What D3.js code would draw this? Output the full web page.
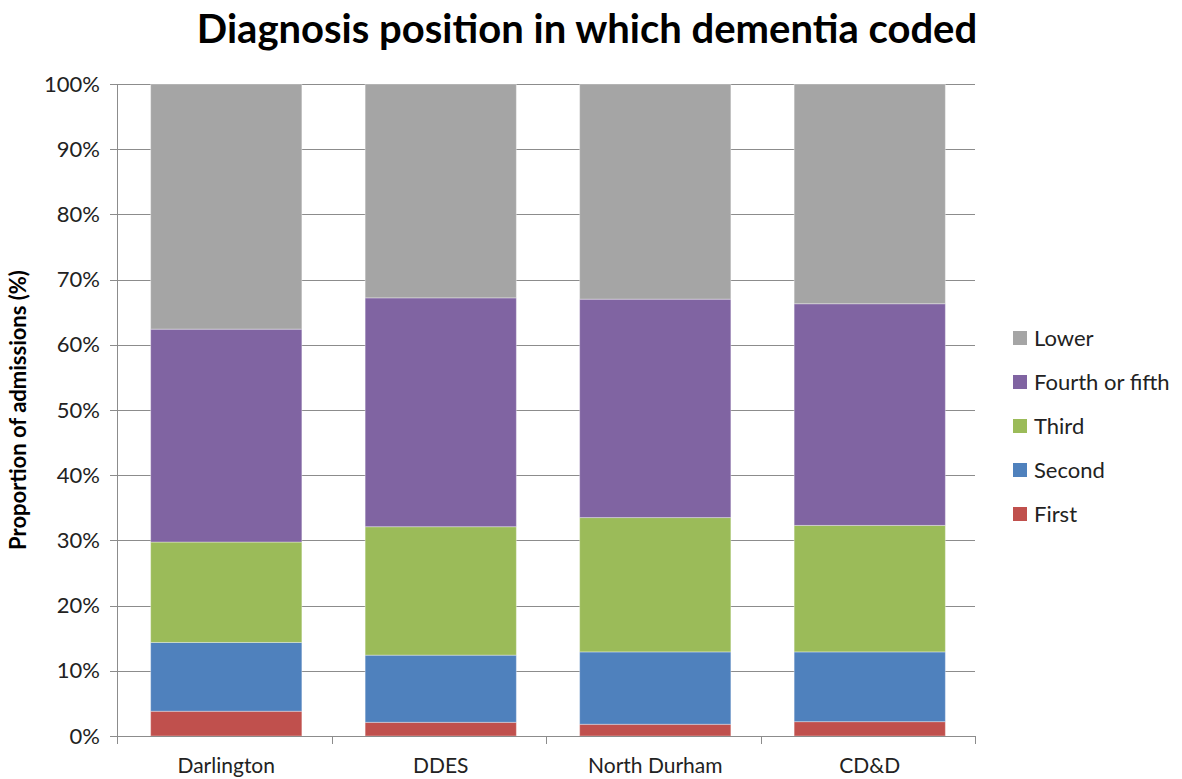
<!DOCTYPE html>
<meta charset="utf-8">
<style>
body { margin: 0; background: #fff; }
text { font-family: Lato, "Open Sans", sans-serif; fill: #222; }
.grid line { stroke: #8c8c8c; stroke-width: 1; shape-rendering: crispEdges; }
.axis path, .axis line { stroke: #8c8c8c; shape-rendering: crispEdges; }
.axis text { font-size: 22px; }
</style>
<svg width="1182" height="779"></svg>
<script src="https://d3js.org/d3.v7.min.js"></script>
<script>

var categories = ["Darlington", "DDES", "North Durham", "CD&D"];
var seriesNames = ["First", "Second", "Third", "Fourth or fifth", "Lower"];
var first = [3.8, 2.1, 1.8, 2.2];
var second = [10.55, 10.3, 11.1, 10.7];
var third = [15.4, 19.7, 20.6, 19.4];
var fourthFifth = [32.65, 35.1, 33.5, 34.0];
var lower = [37.6, 32.8, 33.0, 33.7];
var yTicks = [0, 10, 20, 30, 40, 50, 60, 70, 80, 90, 100];
var colors = ["#C0504D", "#4F81BD", "#9BBB59", "#8064A2", "#A5A5A5"];

var svg = d3.select("svg"),
    margin = {top: 84, right: 207, bottom: 43, left: 117},
    width = 1182 - margin.left - margin.right,
    height = 779 - margin.top - margin.bottom;

var data = categories.map(function(c, i) {
  return {cat: c, "First": first[i], "Second": second[i], "Third": third[i],
          "Fourth or fifth": fourthFifth[i], "Lower": lower[i]};
});

var x = d3.scaleBand().domain(categories).range([2, width + 2]).paddingInner(0.295).paddingOuter(0.1475);
var y = d3.scaleLinear().domain([0, 100]).range([height, 0]);
var color = d3.scaleOrdinal().domain(seriesNames).range(colors);

var stack = d3.stack().keys(seriesNames);
var layers = stack(data);

var g = svg.append("g")
    .attr("transform", "translate(" + margin.left + "," + margin.top + ")");

g.append("g")
    .attr("class", "grid")
  .selectAll("line").data(yTicks.slice(1)).enter().append("line")
    .attr("x1", 0).attr("x2", width)
    .attr("y1", function(d) { return Math.round(y(d)) + 0.5; })
    .attr("y2", function(d) { return Math.round(y(d)) + 0.5; });

g.append("g").selectAll("g").data(layers).enter().append("g")
    .attr("fill", function(d) { return color(d.key); })
  .selectAll("rect").data(function(d) { return d; }).enter().append("rect")
    .attr("x", function(d) { return x(d.data.cat); })
    .attr("width", x.bandwidth())
    .attr("y", function(d) { return y(d[1]); })
    .attr("height", function(d) { return y(d[0]) - y(d[1]); })
    .attr("stroke", "#fff")
    .attr("stroke-opacity", 0.35)
    .attr("stroke-width", 1);

var yAxis = g.append("g")
    .attr("class", "axis")
    .call(d3.axisLeft(y).tickValues(yTicks).tickSize(7).tickPadding(10)
      .tickFormat(function(d) { return d + "%"; }));
yAxis.select(".domain").attr("d", "M0.5," + height + "V0");

var xAxis = g.append("g")
    .attr("class", "axis")
    .attr("transform", "translate(0," + height + ")");
xAxis.append("line").attr("x1", 0).attr("x2", width).attr("y1", 0.5).attr("y2", 0.5);
xAxis.selectAll(".tk").data(d3.range(categories.length + 1)).enter().append("line")
    .attr("x1", function(i) { return Math.round(i * width / categories.length) + 0.5; })
    .attr("x2", function(i) { return Math.round(i * width / categories.length) + 0.5; })
    .attr("y1", 0).attr("y2", 8);
xAxis.selectAll("text").data(categories).enter().append("text")
    .attr("x", function(d) { return x(d) + x.bandwidth() / 2; })
    .attr("y", 37)
    .attr("text-anchor", "middle")
    .style("font-size", "21px")
    .text(function(d) { return d; });

svg.append("text")
    .attr("x", 587).attr("y", 43)
    .attr("text-anchor", "middle")
    .style("font-size", "40px").style("font-weight", "bold").style("fill", "#000")
    .text("Diagnosis position in which dementia coded");

svg.append("text")
    .attr("transform", "translate(26,410) rotate(-90)")
    .attr("text-anchor", "middle")
    .style("font-size", "22px").style("font-weight", "bold").style("fill", "#000")
    .text("Proportion of admissions (%)");

var legend = svg.append("g").selectAll("g").data(seriesNames.slice().reverse()).enter().append("g")
    .attr("transform", function(d, i) { return "translate(1013," + (338 + i * 44) + ")"; });
legend.append("rect")
    .attr("x", 0).attr("y", -7).attr("width", 14).attr("height", 14)
    .attr("fill", function(d) { return color(d); });
legend.append("text")
    .attr("x", 21).attr("y", 8)
    .style("font-size", "22px")
    .text(function(d) { return d; });

</script>
